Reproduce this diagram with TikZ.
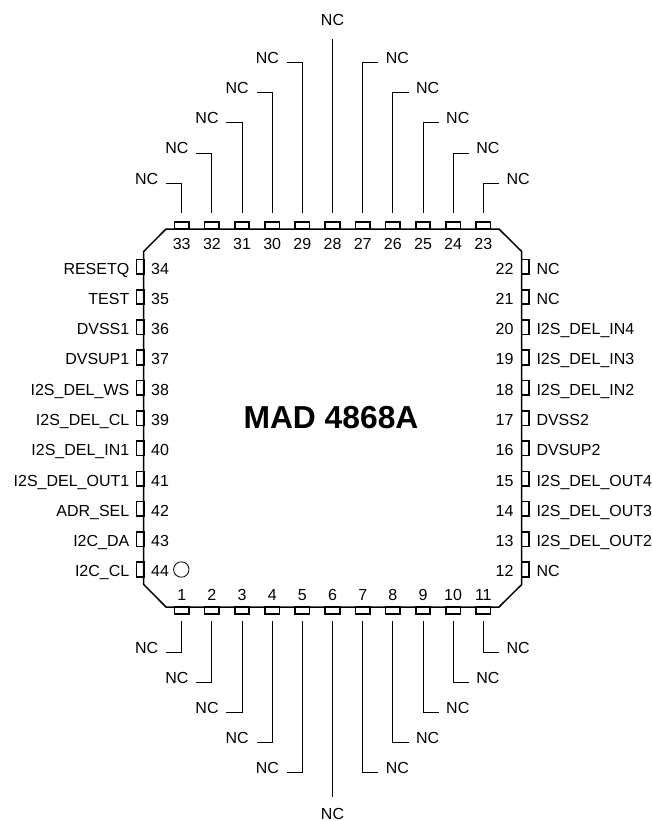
\documentclass[tikz,border=0pt]{standalone}
\usepackage{fontspec}
\setmainfont{Liberation Sans}
\tikzset{
  x=1pt,y=-1pt,
  hpin/.style={draw=black,line width=1.6pt,minimum width=14.5pt,minimum height=6.8pt,inner sep=0pt,outer sep=0pt},
  vpin/.style={draw=black,line width=1.6pt,minimum width=7.2pt,minimum height=14.5pt,inner sep=0pt,outer sep=0pt},
  lbl/.style={font=\fontsize{16}{18}\selectfont,inner sep=0pt,outer sep=0pt},
  lead/.style={draw=black,line width=0.9pt},
  body/.style={draw=black,line width=1.5pt,line join=miter}
}
\begin{document}
\begin{tikzpicture}
\useasboundingbox (0,0) rectangle (652,821);
\fill[white] (0,0) rectangle (652,821);
\node[lbl,font=\bfseries\fontsize{31.8}{33}\selectfont] (title) at (331,418) {MAD 4868A};
% top side, leaders to the left
\foreach \n/\x/\ly in {33/181.7/183.3,32/211.9/153.1,31/242/122.9,30/272.2/92.7,29/302.3/62.5}{
  \node[hpin] (p\n) at (\x,225.6) {};
  \node[lbl,anchor=base] (t\n) at (\x,249.3) {\n};
  \coordinate (s\n) at (\x,213);
  \node[lbl,anchor=base east] (c\n) at (\x-23.4,\ly+0.8) {NC};
  \coordinate (b\n) at (\x-15.7,\ly);
  \draw[lead] (s\n) |- (b\n);
}
% top side, centre
\node[hpin] (p28) at (332.5,225.6) {};
\node[lbl,anchor=base] (t28) at (332.5,249.3) {28};
\node[lbl,anchor=base] (c28) at (332.5,25.6) {NC};
\coordinate (s28) at (332.5,213);
\coordinate (b28) at (332.5,39);
\draw[lead] (s28) -- (b28);
% top side, leaders to the right
\foreach \n/\x/\ly in {27/362.7/62.5,26/392.8/92.7,25/423/122.9,24/453.1/153.1,23/483.3/183.3}{
  \node[hpin] (p\n) at (\x,225.6) {};
  \node[lbl,anchor=base] (t\n) at (\x,249.3) {\n};
  \coordinate (s\n) at (\x,213);
  \node[lbl,anchor=base west] (c\n) at (\x+23.2,\ly+0.8) {NC};
  \coordinate (b\n) at (\x+15.7,\ly);
  \draw[lead] (s\n) |- (b\n);
}
% bottom side, leaders to the left
\foreach \n/\x/\ly in {1/181.7/652.3,2/211.9/682.4,3/242/712.5,4/272.2/742.6,5/302.3/772.7}{
  \node[hpin] (p\n) at (\x,610.6) {};
  \node[lbl,anchor=base] (t\n) at (\x,600) {\n};
  \coordinate (s\n) at (\x,621);
  \node[lbl,anchor=base east] (c\n) at (\x-23.4,\ly+1) {NC};
  \coordinate (b\n) at (\x-15.7,\ly);
  \draw[lead] (s\n) |- (b\n);
}
% bottom side, centre
\node[hpin] (p6) at (332.5,610.6) {};
\node[lbl,anchor=base] (t6) at (332.5,600) {6};
\node[lbl,anchor=base] (c6) at (332.5,819) {NC};
\coordinate (s6) at (332.5,621);
\coordinate (b6) at (332.5,796.7);
\draw[lead] (s6) -- (b6);
% bottom side, leaders to the right
\foreach \n/\x/\ly in {7/362.7/772.7,8/392.8/742.6,9/423/712.5,10/453.1/682.4,11/483.3/652.3}{
  \node[hpin] (p\n) at (\x,610.6) {};
  \node[lbl,anchor=base] (t\n) at (\x,600) {\n};
  \coordinate (s\n) at (\x,621);
  \node[lbl,anchor=base west] (c\n) at (\x+23.2,\ly+1) {NC};
  \coordinate (b\n) at (\x+15.7,\ly);
  \draw[lead] (s\n) |- (b\n);
}
% left side
\foreach \n/\y/\t in {34/266.7/RESETQ,35/297/TEST,36/327.3/DVSS1,37/357.5/DVSUP1,38/387.8/I2S\_DEL\_WS,39/418.1/I2S\_DEL\_CL,40/448.4/I2S\_DEL\_IN1,41/478.7/I2S\_DEL\_OUT1,42/508.9/ADR\_SEL,43/539.2/I2C\_DA,44/569.5/I2C\_CL}{
  \node[vpin] (p\n) at (140.1,\y) {};
  \node[lbl,anchor=base west] (t\n) at (151.2,\y+7.4) {\n};
  \node[lbl,anchor=base east] (c\n) at (129.3,\y+7.4) {\t};
}
% right side
\foreach \n/\y/\t in {22/266.7/NC,21/297/NC,20/327.3/I2S\_DEL\_IN4,19/357.5/I2S\_DEL\_IN3,18/387.8/I2S\_DEL\_IN2,17/418.1/DVSS2,16/448.4/DVSUP2,15/478.7/I2S\_DEL\_OUT4,14/508.9/I2S\_DEL\_OUT3,13/539.2/I2S\_DEL\_OUT2,12/569.5/NC}{
  \node[vpin] (p\n) at (525.1,\y) {};
  \node[lbl,anchor=base east] (t\n) at (513.5,\y+7.4) {\n};
  \node[lbl,anchor=base west] (c\n) at (536.5,\y+7.4) {\t};
}
\draw[body] (166,229) -- (499,229) -- (521.7,251.5) -- (521.7,584.5) -- (499,607) -- (166,607) -- (143.7,584.5) -- (143.7,251.5) -- cycle;
\draw[black,line width=0.8pt] (181.3,569.5) circle (7.7);
\end{tikzpicture}
\end{document}
